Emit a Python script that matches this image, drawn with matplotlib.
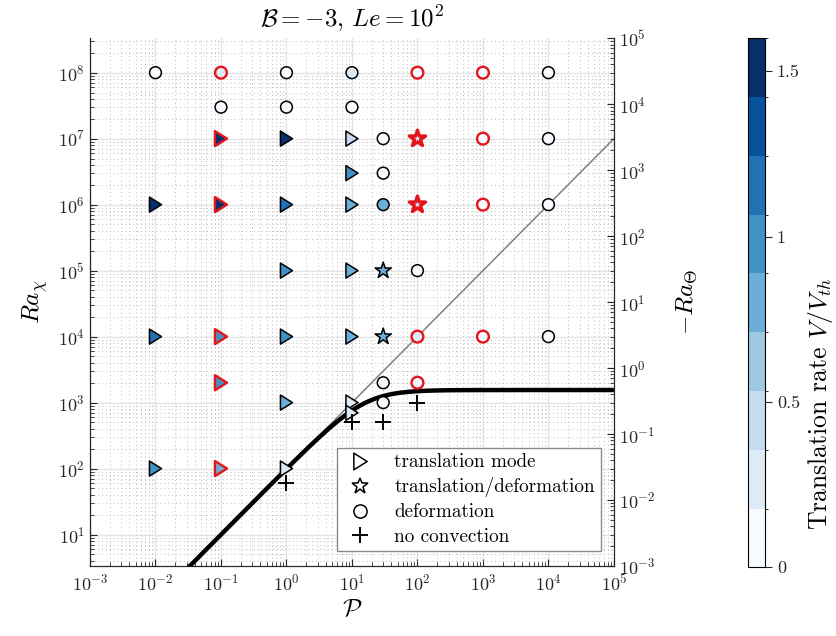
import numpy as np
import matplotlib
matplotlib.use("Agg")
import matplotlib.pyplot as plt
from matplotlib.colors import BoundaryNorm
from matplotlib.path import Path
from matplotlib.lines import Line2D
from matplotlib.cm import ScalarMappable
from matplotlib.ticker import LogLocator, NullFormatter

plt.rcParams["font.family"] = ["cmr10", "DejaVu Serif"]
plt.rcParams["mathtext.fontset"] = "cm"
plt.rcParams["axes.formatter.use_mathtext"] = True

# ---- data -------------------------------------------------------------
# translation mode: Prandtl number, compositional Rayleigh number, rate, red edge
trans_P = [1e-2, 1e-2, 1e-2,
           1e-1, 1e-1, 1e-1, 1e-1, 1e-1,
           1, 1, 1, 1, 1, 1,
           10, 10, 10, 10, 10, 10, 10]
trans_Ra = [1e6, 1e4, 1e2,
            1e7, 1e6, 1e4, 2e3, 1e2,
            1e7, 1e6, 1e5, 1e4, 1e3, 1e2,
            1e7, 3e6, 1e6, 1e5, 1e4, 1e3, 7e2]
trans_V = [1.52, 1.15, 0.97,
           1.52, 1.45, 0.97, 0.97, 0.80,
           1.52, 1.15, 0.97, 0.97, 0.80, 0.26,
           0.44, 0.97, 0.80, 0.80, 0.80, 0.26, 0.26]
trans_red = [0, 0, 0,
             1, 1, 1, 1, 1,
             0, 0, 0, 0, 0, 0,
             0, 0, 0, 0, 0, 0, 0]

# translation/deformation
mixed_P = [30, 30, 100, 100]
mixed_Ra = [1e5, 1e4, 1e7, 1e6]
mixed_V = [0.80, 0.80, 0.44, 0.44]
mixed_red = [0, 0, 1, 1]

# deformation
deform_P = [1e-2, 1e-1, 1e-1, 1, 1, 10, 10,
            30, 30, 30, 30, 30,
            100, 100, 100, 100,
            1e3, 1e3, 1e3, 1e3,
            1e4, 1e4, 1e4, 1e4]
deform_Ra = [1e8, 1e8, 3e7, 1e8, 3e7, 1e8, 3e7,
             1e7, 3e6, 1e6, 2e3, 1e3,
             1e8, 1e5, 1e4, 2e3,
             1e8, 1e7, 1e6, 1e4,
             1e8, 1e7, 1e6, 1e4]
deform_V = [0.0, 0.26, 0.0, 0.0, 0.0, 0.26, 0.0,
            0.0, 0.0, 0.80, 0.0, 0.0,
            0.0, 0.0, 0.26, 0.0,
            0.0, 0.0, 0.0, 0.0,
            0.0, 0.0, 0.0, 0.0]
deform_red = [0, 1, 0, 0, 0, 0, 0,
              0, 0, 0, 0, 0,
              1, 0, 1, 1,
              1, 1, 1, 1,
              0, 0, 0, 0]

# no convection
still_P = [1, 10, 30, 100]
still_Ra = [60, 500, 500, 1e3]

# onset curve parameters: low-P slope, plateau, blending exponent
onset_slope = 100.0
onset_plateau = 1550.0
onset_sharp = 1.5

# ---- styling ----------------------------------------------------------
n_bands = 9
v_max = 1.6
bounds = np.linspace(0, v_max, n_bands + 1)
cmap = plt.get_cmap("Blues", n_bands)
norm = BoundaryNorm(bounds, n_bands)

tri = Path([(-0.8, -1.0), (0.8, 0.0), (-0.8, 1.0), (-0.8, -1.0)],
           [Path.MOVETO, Path.LINETO, Path.LINETO, Path.CLOSEPOLY])

RED = "#e4141b"

fig = plt.figure(figsize=(8.37, 6.36), dpi=100)
ax = fig.add_axes([0.1075, 0.110, 0.626, 0.830])
ax2 = ax.twinx()

ax.set_xscale("log")
ax.set_yscale("log")
ax2.set_yscale("log")
ax.set_xlim(1e-3, 1e5)
ax.set_ylim(10 / 3, 1e9 / 3)
ax2.set_ylim(1e-3, 1e5)

for a in (ax, ax2):
    a.spines["top"].set_visible(False)
    for s in a.spines.values():
        s.set_linewidth(0.8)
        s.set_color("#262626")

ax.grid(True, which="major", color="#e4e4e4", lw=1.0, zorder=0)
ax.grid(True, which="minor", color="#bdbdbd", lw=0.7, ls=(0, (1, 3)), zorder=0)
ax.set_axisbelow(True)

ax.xaxis.set_major_locator(LogLocator(base=10, numticks=20))
ax.xaxis.set_minor_locator(LogLocator(base=10, subs=np.arange(2, 10), numticks=20))
ax.xaxis.set_minor_formatter(NullFormatter())
ax.yaxis.set_major_locator(LogLocator(base=10, numticks=20))
ax.yaxis.set_minor_locator(LogLocator(base=10, subs=np.arange(2, 10), numticks=20))
ax.yaxis.set_minor_formatter(NullFormatter())
ax2.yaxis.set_major_locator(LogLocator(base=10, numticks=20))
ax2.yaxis.set_minor_locator(LogLocator(base=10, subs=np.arange(2, 10), numticks=20))
ax2.yaxis.set_minor_formatter(NullFormatter())

ax.tick_params(which="both", direction="in", top=False, right=False,
               labelsize=13, colors="#262626")
ax.tick_params(which="major", length=5)
ax.tick_params(which="minor", length=3)
ax.tick_params(axis="x", pad=5)
ax2.tick_params(which="both", direction="in", labelsize=13, colors="#262626")
ax2.tick_params(which="major", length=5)
ax2.tick_params(which="minor", length=3)

# reference line and onset curve
P_line = np.logspace(-3, 5, 400)
ax.plot(P_line, onset_slope * P_line, color="#808080", lw=1.1, zorder=2)
onset = onset_slope * P_line / (1 + (onset_slope * P_line / onset_plateau) ** onset_sharp) ** (1 / onset_sharp)
ax.plot(P_line, onset, color="black", lw=3.2, zorder=3, solid_capstyle="butt")


def edges(flags):
    return [RED if f else "black" for f in flags]


def widths(flags, red_lw=1.7):
    return [red_lw if f else 1.1 for f in flags]


ax.scatter(trans_P, trans_Ra, c=trans_V, cmap=cmap, norm=norm, marker=tri, s=118,
           edgecolors=edges(trans_red), linewidths=widths(trans_red), zorder=5)
ax.scatter(mixed_P, mixed_Ra, c=mixed_V, cmap=cmap, norm=norm, marker="*", s=150,
           edgecolors=edges(mixed_red), linewidths=widths(mixed_red, 2.4), zorder=5)
ax.scatter(deform_P, deform_Ra, c=deform_V, cmap=cmap, norm=norm, marker="o", s=72,
           edgecolors=edges(deform_red), linewidths=widths(deform_red), zorder=5)
ax.scatter(still_P, still_Ra, c="black", marker="+", s=130, linewidths=1.4, zorder=5)

ax.set_xlabel(r"$\mathcal{P}$", fontsize=18, labelpad=4)
ax.set_ylabel(r"$Ra_\chi$", fontsize=18, labelpad=6)
ax2.set_ylabel(r"$-Ra_\Theta$", fontsize=18, labelpad=14)
ax.set_title(r"$\mathcal{B}=-3,\, Le=10^2$", fontsize=18, pad=8)

handles = [
    Line2D([], [], ls="none", marker=tri, ms=12, mfc="white", mec="black", mew=1.1),
    Line2D([], [], ls="none", marker="*", ms=12, mfc="white", mec="black", mew=1.1),
    Line2D([], [], ls="none", marker="o", ms=9.5, mfc="white", mec="black", mew=1.1),
    Line2D([], [], ls="none", marker="+", ms=12, mec="black", mew=1.4),
]
labels = ["translation mode", "translation/deformation", "deformation", "no convection"]
leg = ax.legend(handles, labels, loc="lower right", bbox_to_anchor=(0.975, 0.028),
                borderaxespad=0, fontsize=13.8, frameon=True, fancybox=False,
                edgecolor="#8a8a8a", framealpha=1, handletextpad=0.9,
                labelspacing=0.32, borderpad=0.3, handlelength=1.8)
leg.get_frame().set_linewidth(1.0)
leg.set_zorder(10)

# colour bar
cax = fig.add_axes([0.894, 0.108, 0.020, 0.832])
sm = ScalarMappable(norm=norm, cmap=cmap)
cb = fig.colorbar(sm, cax=cax, boundaries=bounds, ticks=[0, 0.5, 1, 1.5])
cb.ax.set_yticklabels(["0", "0.5", "1", "1.5"])
cb.ax.tick_params(labelsize=13, length=5, direction="out", colors="#262626")
cb.outline.set_linewidth(0.8)
cb.set_label(r"Translation rate $V/V_{th}$", fontsize=18.5, labelpad=4)
cb.ax.yaxis.label.set_y(0.31)

fig.savefig("out.png", dpi=100)
